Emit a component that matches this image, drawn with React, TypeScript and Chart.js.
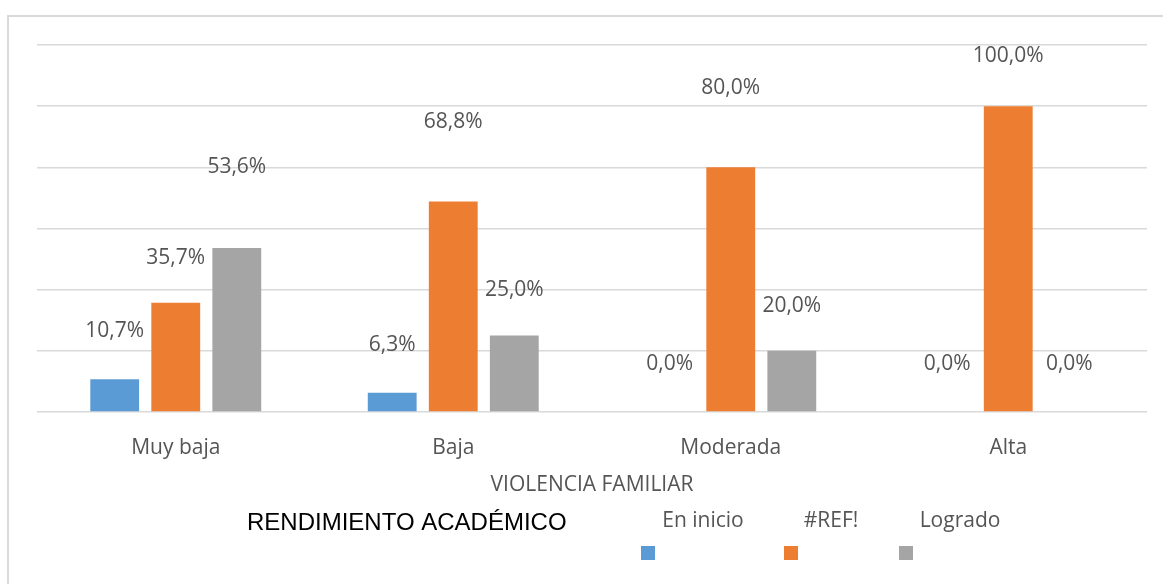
import React, { useEffect, useRef } from "react";
import { Chart, registerables } from "chart.js";

Chart.register(...registerables);

const categories = ["Muy baja", "Baja", "Moderada", "Alta"];
const seriesNames = ["En inicio", "#REF!", "Logrado"];
const enInicio = [10.7, 6.3, 0, 0];
const refSerie = [35.7, 68.8, 80, 100];
const logrado = [53.6, 25, 20, 0];
const seriesColors = ["#5b9bd5", "#ed7d31", "#a5a5a5"];
const axisTitle = "VIOLENCIA FAMILIAR";
const legendTitle = "RENDIMIENTO ACADÉMICO";

// pixel lift of each data label above its bar top (per series, per category)
const labelLift = [
  [48, 48, 48, 48],
  [45, 80, 79, 50],
  [81, 46, 45, 48],
];
// legend layout (text center x, square left x)
const legendTextX = [703, 831, 960];
const legendBoxX = [641, 784, 899];

const FONT = "'Open Sans', sans-serif";
const TEXT_COLOR = "#555555";

const fmt = (v: number) => v.toFixed(1).replace(".", ",") + "%";

const extrasPlugin = {
  id: "extras",
  afterDraw(chart: any) {
    const ctx = chart.ctx;
    ctx.save();
    // frame
    ctx.strokeStyle = "#d9d9d9";
    ctx.lineWidth = 2;
    ctx.beginPath();
    ctx.moveTo(8, chart.height);
    ctx.lineTo(8, 16);
    ctx.lineTo(chart.width, 16);
    ctx.stroke();

    // data labels
    ctx.font = `21px ${FONT}`;
    ctx.fillStyle = TEXT_COLOR;
    ctx.textAlign = "center";
    ctx.textBaseline = "middle";
    chart.data.datasets.forEach((ds: any, di: number) => {
      const meta = chart.getDatasetMeta(di);
      meta.data.forEach((bar: any, i: number) => {
        ctx.fillText(fmt(ds.data[i]), bar.x, bar.y - labelLift[di][i]);
      });
    });

    // axis title
    const area = chart.chartArea;
    ctx.fillText(axisTitle, (area.left + area.right) / 2, 485);

    // legend title
    ctx.font = `24px 'Liberation Sans', Arial, sans-serif`;
    ctx.fillStyle = "#000000";
    ctx.textAlign = "left";
    ctx.fillText(legendTitle, 247, 523);

    // legend items
    ctx.font = `21px ${FONT}`;
    ctx.textAlign = "center";
    seriesNames.forEach((name, i) => {
      ctx.fillStyle = TEXT_COLOR;
      ctx.fillText(name, legendTextX[i], 521);
      ctx.fillStyle = seriesColors[i];
      ctx.fillRect(legendBoxX[i], 546, 14, 14);
    });
    ctx.restore();
  },
};

export default function App() {
  const ref = useRef<HTMLCanvasElement | null>(null);
  useEffect(() => {
    if (!ref.current) return;
    const seriesData = [enInicio, refSerie, logrado];
    const chart = new Chart(ref.current, {
      type: "bar",
      data: {
        labels: categories,
        datasets: seriesNames.map((n, i) => ({
          label: n,
          data: seriesData[i],
          backgroundColor: seriesColors[i],
          categoryPercentage: 0.66,
          barPercentage: 0.8,
        })),
      },
      options: {
        responsive: false,
        animation: false,
        layout: { padding: { left: 37, right: 16, top: 45, bottom: 0 } },
        plugins: {
          legend: { display: false },
          tooltip: { enabled: false },
          title: { display: false },
        },
        scales: {
          y: {
            min: 0,
            max: 120,
            ticks: { display: false, stepSize: 20 },
            border: { display: false },
            grid: { color: "#d9d9d9", lineWidth: 1.5, drawTicks: false },
            afterFit: (s: any) => {
              s.width = 0;
            },
          },
          x: {
            ticks: {
              color: TEXT_COLOR,
              font: { family: FONT, size: 21 },
              padding: 23,
            },
            border: { display: false },
            grid: { display: false, drawTicks: false },
            afterFit: (s: any) => {
              s.height = 172;
            },
          },
        },
      },
      plugins: [extrasPlugin],
    });
    return () => chart.destroy();
  }, []);
  return (
    <div style={{ position: "absolute", left: 0, top: 0, width: 1163, height: 584, background: "#fff" }}>
      <canvas ref={ref} width={1163} height={584} />
    </div>
  );
}
